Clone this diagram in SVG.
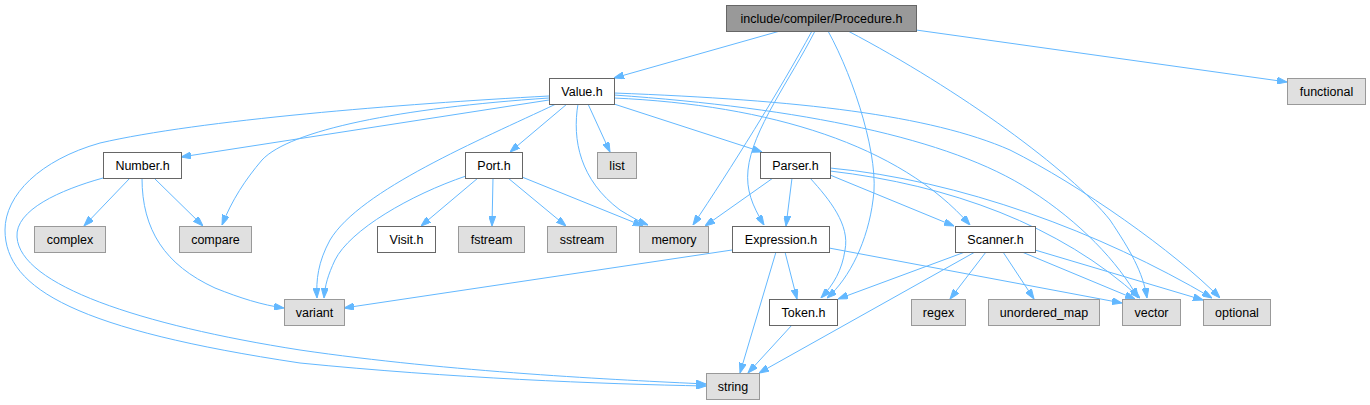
<svg xmlns="http://www.w3.org/2000/svg" width="1370" height="405" viewBox="0 0 1370 405">
<style>
.e{fill:none;stroke:#63b8ff;stroke-width:1;marker-end:url(#ah)}
.n rect{fill:#ffffff;stroke:#666666;stroke-width:1}
.g rect{fill:#e0e0e0;stroke:#999999;stroke-width:1}
.r rect{fill:#999999;stroke:#666666;stroke-width:1}
text{font-family:"Liberation Sans",Arial,Helvetica,sans-serif;font-size:12.5px;fill:#000;text-anchor:middle}
</style>
<defs>
<marker id="ah" viewBox="0 0 10 7" refX="10" refY="3.5" markerWidth="10" markerHeight="7" markerUnits="userSpaceOnUse" orient="auto">
<polygon points="0,0 10,3.5 0,7" fill="#63b8ff" stroke="#63b8ff"/>
</marker>
</defs>
<g id="edges">
<!-- Procedure.h -->
<path class="e" d="M780,31 L614,78"/>
<path class="e" d="M812,31 C780,90 730,170 693,225"/>
<path class="e" d="M815,31 C790,80 752,130 748,170 C746,190 752,205 764,225"/>
<path class="e" d="M828,31 C855,80 880,160 873,200 C868,240 850,278 827,298"/>
<path class="e" d="M848,31 C960,90 1070,170 1110,220 C1130,250 1143,272 1147,298"/>
<path class="e" d="M916,30 L1287,82"/>
<!-- Value.h -->
<path class="e" d="M549,96 C400,104 200,120 100,143 C40,160 5,195 5,230 C5,290 80,330 300,363 C450,378 600,384 706,386"/>
<path class="e" d="M549,100 L181,157"/>
<path class="e" d="M549,98 C400,108 290,130 262,160 C245,180 232,200 222,225"/>
<path class="e" d="M556,104 C480,140 360,190 330,240 C318,262 316,280 317,298"/>
<path class="e" d="M567,104 L510,152"/>
<path class="e" d="M578,104 C572,140 580,180 620,210 C630,216 638,221 648,225"/>
<path class="e" d="M588,104 L610,152"/>
<path class="e" d="M614,104 L762,152"/>
<path class="e" d="M614,98 C770,105 900,145 970,225"/>
<path class="e" d="M614,95 C800,108 950,138 1030,190 C1080,222 1118,262 1138,298"/>
<path class="e" d="M614,93 C800,100 930,115 1010,150 C1080,185 1175,252 1220,298"/>
<!-- Number.h -->
<path class="e" d="M130,178 L84,226"/>
<path class="e" d="M154,178 L203,226"/>
<path class="e" d="M142,178 C142,230 165,265 215,288 C240,298 262,305 284,308"/>
<path class="e" d="M103,178 C60,190 15,210 17,237 C20,285 140,325 300,350 C450,372 620,380 706,384"/>
<!-- Port.h -->
<path class="e" d="M466,176 C410,195 350,230 335,260 C328,275 325,285 324,298"/>
<path class="e" d="M478,178 L421,226"/>
<path class="e" d="M493,178 L492,226"/>
<path class="e" d="M508,178 L566,226"/>
<path class="e" d="M522,177 L643,226"/>
<!-- Parser.h -->
<path class="e" d="M773,178 L705,226"/>
<path class="e" d="M792,178 L786,226"/>
<path class="e" d="M810,178 C830,200 850,225 845,250 C842,270 834,284 821,298"/>
<path class="e" d="M830,175 L954,226"/>
<path class="e" d="M830,171 C950,185 1060,225 1140,298"/>
<path class="e" d="M830,168 C960,180 1100,232 1212,298"/>
<!-- Expression.h -->
<path class="e" d="M732,250 L344,308"/>
<path class="e" d="M785,252 L797,299"/>
<path class="e" d="M776,252 L740,373"/>
<path class="e" d="M829,248 L1122,303"/>
<!-- Scanner.h -->
<path class="e" d="M965,252 L838,299"/>
<path class="e" d="M975,252 L759,373"/>
<path class="e" d="M986,252 L950,299"/>
<path class="e" d="M1003,252 L1034,299"/>
<path class="e" d="M1022,252 L1135,299"/>
<path class="e" d="M1035,250 L1203,300"/>
<!-- Token.h -->
<path class="e" d="M792,325 L748,373"/>
</g>
<g id="n_procedure" class="r"><rect x="726.5" y="5.5" width="190" height="26"/><text x="821.5" y="23">include/compiler/Procedure.h</text></g>
<g id="n_value" class="n"><rect x="549.5" y="78.5" width="65" height="26"/><text x="582" y="96">Value.h</text></g>
<g id="n_functional" class="g"><rect x="1287.5" y="78.5" width="78" height="26"/><text x="1326.5" y="96">functional</text></g>
<g id="n_number" class="n"><rect x="103.5" y="152.5" width="78" height="26"/><text x="142.5" y="170">Number.h</text></g>
<g id="n_port" class="n"><rect x="465.5" y="152.5" width="57" height="26"/><text x="494" y="170">Port.h</text></g>
<g id="n_list" class="g"><rect x="597.5" y="152.5" width="39" height="26"/><text x="617" y="170">list</text></g>
<g id="n_parser" class="n"><rect x="760.5" y="152.5" width="70" height="26"/><text x="795.5" y="170">Parser.h</text></g>
<g id="n_complex" class="g"><rect x="34.5" y="226.5" width="71" height="26"/><text x="70" y="244">complex</text></g>
<g id="n_compare" class="g"><rect x="179.5" y="226.5" width="72" height="26"/><text x="215.5" y="244">compare</text></g>
<g id="n_visit" class="n"><rect x="377.5" y="226.5" width="58" height="26"/><text x="406.5" y="244">Visit.h</text></g>
<g id="n_fstream" class="g"><rect x="458.5" y="226.5" width="66" height="26"/><text x="491.5" y="244">fstream</text></g>
<g id="n_sstream" class="g"><rect x="547.5" y="226.5" width="69" height="26"/><text x="582" y="244">sstream</text></g>
<g id="n_memory" class="g"><rect x="639.5" y="226.5" width="69" height="26"/><text x="674" y="244">memory</text></g>
<g id="n_expression" class="n"><rect x="732.5" y="226.5" width="97" height="26"/><text x="781" y="244">Expression.h</text></g>
<g id="n_scanner" class="n"><rect x="955.5" y="226.5" width="80" height="26"/><text x="995.5" y="244">Scanner.h</text></g>
<g id="n_variant" class="g"><rect x="284.5" y="299.5" width="60" height="26"/><text x="314.5" y="317">variant</text></g>
<g id="n_token" class="n"><rect x="769.5" y="299.5" width="68" height="26"/><text x="803.5" y="317">Token.h</text></g>
<g id="n_regex" class="g"><rect x="911.5" y="299.5" width="54" height="26"/><text x="938.5" y="317">regex</text></g>
<g id="n_unordered_map" class="g"><rect x="988.5" y="299.5" width="111" height="26"/><text x="1044" y="317">unordered_map</text></g>
<g id="n_vector" class="g"><rect x="1122.5" y="299.5" width="58" height="26"/><text x="1151.5" y="317">vector</text></g>
<g id="n_optional" class="g"><rect x="1203.5" y="299.5" width="67" height="26"/><text x="1237" y="317">optional</text></g>
<g id="n_string" class="g"><rect x="706.5" y="373.5" width="53" height="26"/><text x="733" y="391">string</text></g>
</svg>
